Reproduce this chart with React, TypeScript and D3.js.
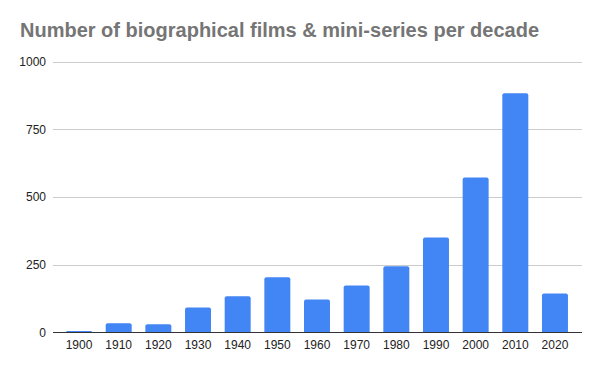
import React from "react";
import * as d3 from "d3";

const decades = ["1900","1910","1920","1930","1940","1950","1960","1970","1980","1990","2000","2010","2020"];
const counts = [5, 33, 30, 92, 133, 203, 121, 173, 244, 350, 572, 883, 143];
const yTicks = [0, 250, 500, 750, 1000];
const title = "Number of biographical films & mini-series per decade";

const W = 600, H = 371;
const plotLeft = 53, plotRight = 582;

export default function App() {
  const x = d3.scaleBand<string>().domain(decades).range([59.2, 574.8]).paddingInner(0.345).paddingOuter(0.1725);
  const y = d3.scaleLinear().domain([0, 1000]).range([332.3, 61.7]);
  const bw = x.bandwidth();
  const r = 2;
  const barPath = (d: string, v: number) => {
    const x0 = x(d)!;
    const y0 = y(v);
    const y1 = y(0);
    const rr = Math.min(r, (y1 - y0));
    return `M${x0},${y1}V${y0 + rr}Q${x0},${y0} ${x0 + rr},${y0}H${x0 + bw - rr}Q${x0 + bw},${y0} ${x0 + bw},${y0 + rr}V${y1}Z`;
  };
  return (
    <svg width={W} height={H} style={{ position: "absolute", left: 0, top: 0, background: "#fff" }} fontFamily="'Liberation Sans', Arial, sans-serif">
      <rect width={W} height={H} fill="#fff" />
      <text x={20} y={37} fontSize={20} fontWeight="bold" fill="#757575">{title}</text>
      {yTicks.map(t => (
        <g key={t}>
          {t !== 0 && <line x1={plotLeft} x2={plotRight} y1={Math.round(y(t)) + 0.5} y2={Math.round(y(t)) + 0.5} stroke="#cccccc" strokeWidth={1} />}
          <text x={46} y={y(t)} dy="0.35em" textAnchor="end" fontSize={12} fill="#222">{t}</text>
        </g>
      ))}
      {decades.map((d, i) => (
        <path key={d} d={barPath(d, counts[i])} fill="#4285f4" />
      ))}
      <line x1={plotLeft} x2={plotRight} y1={332.5} y2={332.5} stroke="#333" strokeWidth={1} />
      {decades.map(d => (
        <text key={d} x={x(d)! + bw / 2} y={349} textAnchor="middle" fontSize={12} fill="#222">{d}</text>
      ))}
    </svg>
  );
}
